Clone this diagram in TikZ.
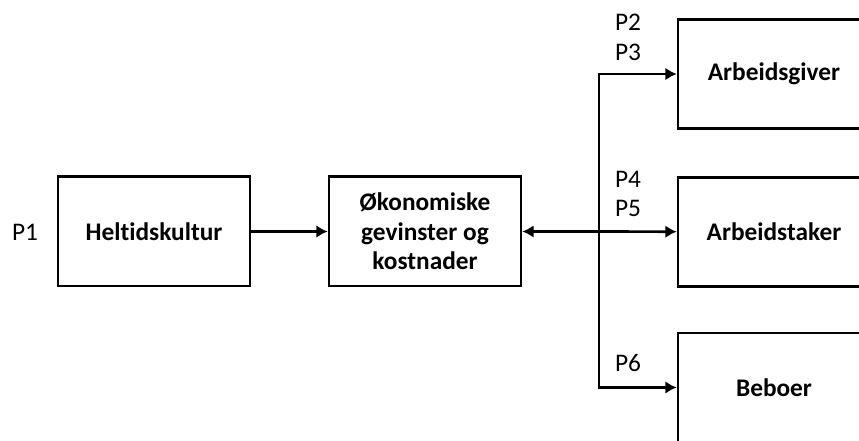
\documentclass[tikz,border=0pt]{standalone}
\usepackage{fontspec}
\setmainfont{Carlito}[Ligatures=NoCommon]
\usetikzlibrary{arrows.meta, positioning}

\begin{document}
\begin{tikzpicture}[x=0.75pt, y=-0.75pt,
    box/.style={rectangle, draw, line width=2pt, minimum width=144pt, minimum height=82pt, font=\fontsize{19}{22}\selectfont\bfseries, align=center},
    arrow/.style={->, >={Latex[length=8.5pt, width=9.5pt]}, line width=2pt},
    plabel/.style={font=\fontsize{19}{22}\selectfont}
  ]
  \useasboundingbox (0,0) rectangle (859,441);
  \clip (0,0) rectangle (859,441);

  % --- left chain ---
  \node[box] (heltid) at (154,231.5) {Heltidskultur};
  \node[box] (oko) at (425,231.5) {Økonomiske\\gevinster og\\kostnader};
  \node[plabel] (p1) at (25,232) {P1};

  % --- actors on the right ---
  \node[box] (giver) at (774,74) {Arbeidsgiver};
  \node[box] (taker) at (774,232) {Arbeidstaker};
  \node[box] (beboer) at (774,387.5) {Beboer};

  \coordinate (split) at (599,231.5);

  \draw[arrow] (heltid) -- (oko);
  \draw[arrow] (split) -- (oko);
  \draw[arrow] (split) |- (giver);
  \draw[arrow] (split) -- (taker);
  \draw[arrow] (split) |- (beboer);

  % path labels
  \node[plabel] (p2) at (628,22.5) {P2};
  \node[plabel] (p3) at (628,52) {P3};
  \node[plabel] (p4) at (628,179) {P4};
  \node[plabel] (p5) at (628,208) {P5};
  \node[plabel] (p6) at (628,363) {P6};
\end{tikzpicture}
\end{document}
